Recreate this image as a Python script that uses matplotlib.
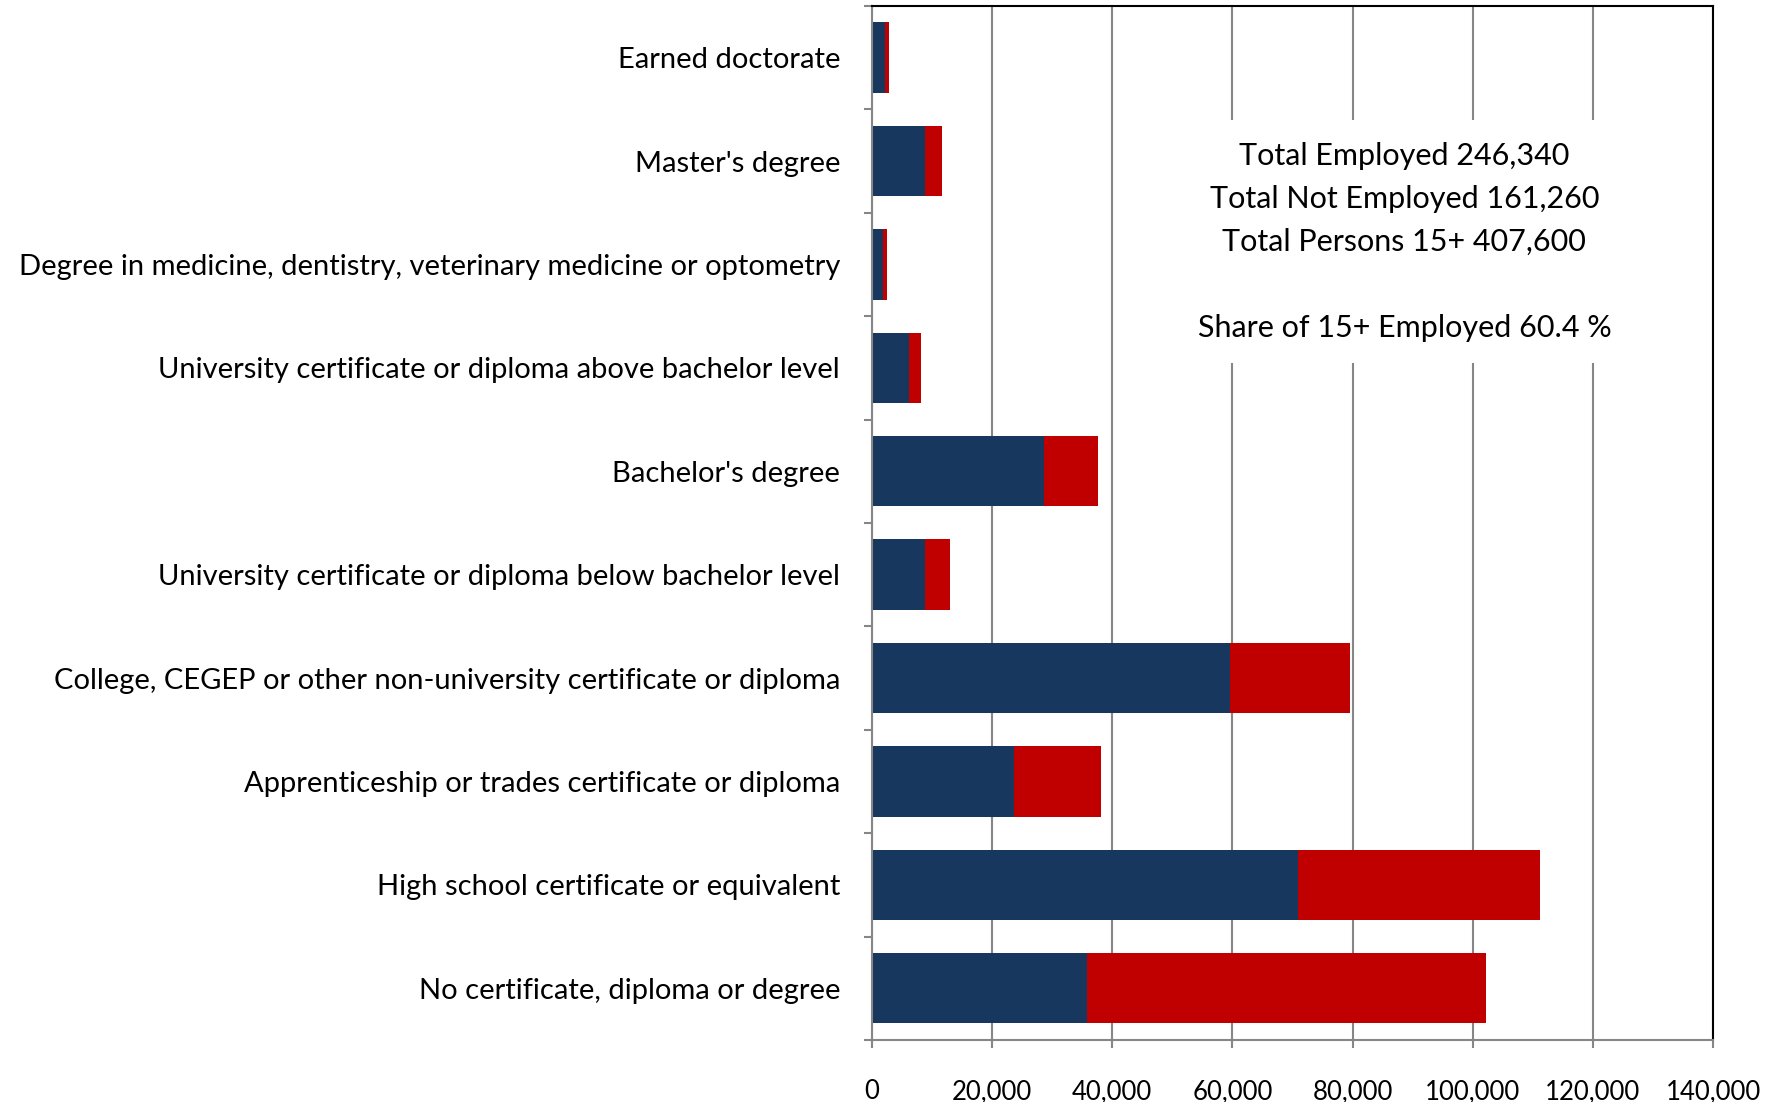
import numpy as np
import matplotlib.pyplot as plt
from matplotlib.ticker import FuncFormatter


categories = [
    'Earned doctorate',
    "Master's degree",
    'Degree in medicine, dentistry, veterinary medicine or optometry',
    'University certificate or diploma above bachelor level',
    "Bachelor's degree",
    'University certificate or diploma below bachelor level',
    'College, CEGEP or other non-university certificate or diploma',
    'Apprenticeship or trades certificate or diploma',
    'High school certificate or equivalent',
    'No certificate, diploma or degree',
]
employed = [2100, 8760, 1780, 6100, 28600, 8750, 59650, 23650, 70900, 35700]
not_employed = [700, 2940, 660, 2000, 9050, 4290, 19950, 14420, 40300, 66500]

summary_lines = [
    'Total Employed 246,340',
    'Total Not Employed 161,260',
    'Total Persons 15+ 407,600',
    '',
    'Share of 15+ Employed 60.4 %',
]

navy = '#17375E'
red = '#C00000'
grey = '#868686'

plt.rcParams['font.family'] = ['Lato', 'DejaVu Sans']

fig = plt.figure(figsize=(17.91, 11.02), dpi=100)
ax = fig.add_axes([0.4869, 0.0563, 0.4696, 0.9383])

y = np.arange(len(categories))
ax.barh(y, employed, height=0.68, color=navy, zorder=2)
ax.barh(y, not_employed, left=employed, height=0.68, color=red, zorder=2)

ax.set_xlim(0, 140000)
ax.set_ylim(len(categories) - 0.5, -0.5)
ax.set_xticks(np.arange(0, 140001, 20000))
ax.xaxis.set_major_formatter(FuncFormatter(lambda v, p: '{:,.0f}'.format(v)))
ax.grid(axis='x', color=grey, linewidth=1.5, zorder=0)
ax.set_axisbelow(True)

ax.set_yticks(y)
ax.set_yticklabels(categories)
ax.set_yticks(np.arange(-0.5, len(categories), 1), minor=True)
ax.tick_params(axis='y', which='major', length=0, pad=23, labelsize=21)
ax.tick_params(axis='y', which='minor', length=6, width=1.5, color=grey)
ax.tick_params(axis='x', length=6, width=1.5, color=grey, pad=22, labelsize=18.5)

for side in ['left', 'bottom']:
    ax.spines[side].set_color(grey)
    ax.spines[side].set_linewidth(1.5)
for side in ['top', 'right']:
    ax.spines[side].set_color('black')
    ax.spines[side].set_linewidth(1.5)

ax.text(0.633, 0.772, '\n'.join(summary_lines), transform=ax.transAxes,
        ha='center', va='center', multialignment='center', fontsize=22,
        linespacing=1.65, zorder=3,
        bbox=dict(boxstyle='square,pad=0.7', fc='white', ec='none'))

fig.savefig('out.png', dpi=100)
